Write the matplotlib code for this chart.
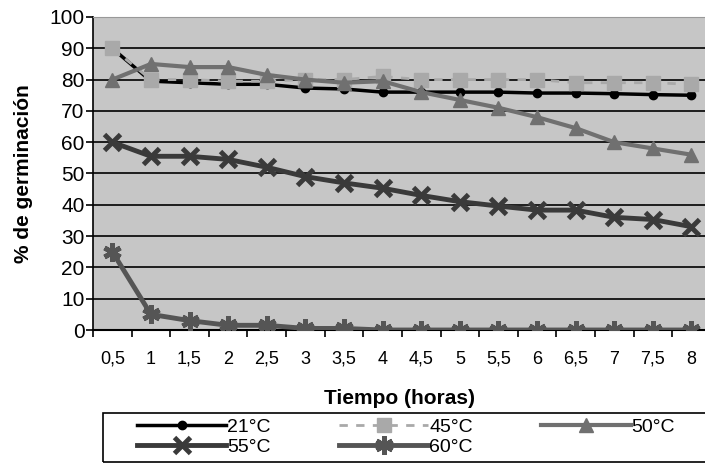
import matplotlib
matplotlib.use("Agg")
import matplotlib.pyplot as plt
from matplotlib.ticker import FixedLocator, NullFormatter
from matplotlib.patches import Rectangle
import numpy as np

plt.rcParams['font.family'] = ['Liberation Sans', 'DejaVu Sans']

tiempo = ["0,5", "1", "1,5", "2", "2,5", "3", "3,5", "4", "4,5", "5", "5,5", "6", "6,5", "7", "7,5", "8"]
t21 = [90, 79.5, 79, 78.5, 78.5, 77.3, 77, 76, 76, 76, 76, 75.7, 75.7, 75.5, 75.2, 75]
t45 = [90, 80, 80, 79.5, 79.5, 80, 80, 81, 80, 80, 80, 80, 79, 79, 79, 78.5]
t50 = [80, 85, 84, 84, 81.5, 80, 79, 79.5, 76, 73.5, 71, 68, 64.5, 60, 58, 56]
t55 = [60, 55.5, 55.5, 54.5, 52, 49, 47, 45.3, 43, 41, 39.6, 38.3, 38.3, 36, 35.3, 33]
t60 = [25, 5, 3, 1.5, 1.5, 0.5, 0.5, 0, 0, 0, 0, 0, 0, 0, 0, 0]
yticks = [0, 10, 20, 30, 40, 50, 60, 70, 80, 90, 100]

fig = plt.figure(figsize=(7.05, 4.65), dpi=100)
W, H = 705, 465
ax = fig.add_axes([93 / W, 1 - 330 / H, (705 - 93) / W, (330 - 17) / H])
ax.set_facecolor('#c6c6c6')

x = np.arange(len(tiempo))
l21, = ax.plot(x, t21, color='black', lw=2.5, marker='o', ms=6, label='21°C', zorder=3)
l45, = ax.plot(x, t45, color='#a9a9a9', lw=2, ls=(0, (3, 3)), marker='s', ms=10,
               mec='#a9a9a9', mfc='#a9a9a9', label='45°C', zorder=3)
l50, = ax.plot(x, t50, color='#707070', lw=3, marker='^', ms=10, label='50°C', zorder=3)
l55, = ax.plot(x, t55, color='#3a3a3a', lw=3.5, marker='x', ms=11, mew=3.5, label='55°C', zorder=3)
l60, = ax.plot(x, t60, color='#555555', lw=3.5, marker=(6, 2, 0), ms=13, mew=3.5, label='60°C', zorder=3)

ax.set_xlim(-0.5, 15.35)
ax.set_ylim(0, 100)
ax.set_yticks(yticks)
ax.set_yticklabels([str(v) for v in yticks], fontsize=15)
ax.yaxis.grid(True, color='black', lw=1.2)
ax.set_axisbelow(True)

ax.set_xticks(x)
ax.set_xticklabels(tiempo, fontsize=13)
ax.tick_params(axis='x', which='major', length=0, pad=15)
ax.xaxis.set_minor_locator(FixedLocator(np.arange(-0.5, 16, 1)))
ax.xaxis.set_minor_formatter(NullFormatter())
ax.tick_params(axis='x', which='minor', length=5, width=1.2, direction='out')
ax.tick_params(axis='y', length=5, width=1.2, direction='out', pad=1)

ax.spines['right'].set_visible(False)
ax.spines['top'].set_color('#999999')
ax.spines['left'].set_linewidth(1.2)
ax.spines['bottom'].set_linewidth(1.5)

ax.set_ylabel('% de germinación', fontsize=15, fontweight='bold')
ax.yaxis.set_label_coords((33 - 93) / 612, 0.5)
fig.text(399 / W, 1 - 398 / H, 'Tiempo (horas)', ha='center', va='center',
         fontsize=15, fontweight='bold')

# legend frame
fig.patches.append(Rectangle((103 / W, 1 - 462 / H), (707 - 103) / W, (462 - 413) / H,
                             transform=fig.transFigure, fill=False, edgecolor='black',
                             lw=1.2, zorder=5))
handles = [l21, l55, l45, l60, l50]
leg = fig.legend(handles, [h.get_label() for h in handles], ncol=3,
                 loc='upper left', bbox_to_anchor=(137 / W, 1 - 418 / H),
                 fontsize=14, handlelength=4.6, handletextpad=0.05,
                 labelspacing=0.15, borderpad=0, columnspacing=3.5,
                 frameon=False, borderaxespad=0)

fig.savefig('out.png', dpi=100, facecolor='white')
